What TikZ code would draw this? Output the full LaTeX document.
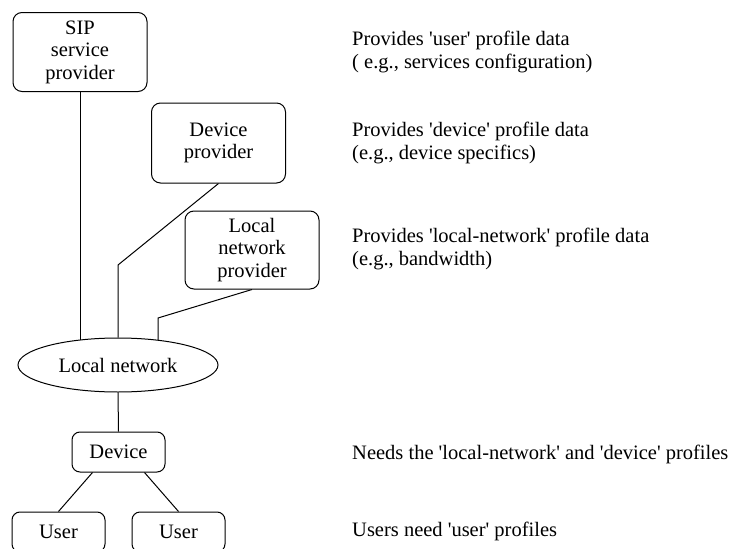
\documentclass[tikz,border=0pt]{standalone}
\usepackage{fontspec}
\setmainfont{Liberation Serif}[Ligatures=TeXOff]
\usetikzlibrary{shapes.geometric}
\pgfdeclarelayer{back}
\pgfsetlayers{back,main}
\tikzset{
  provbox/.style={draw, fill=white, rounded corners=9pt, align=center, inner sep=0pt, minimum width=134pt, minimum height=79pt},
  smallbox/.style={draw, fill=white, rounded corners=8pt, inner sep=0pt, minimum width=93pt, minimum height=40pt},
  netshape/.style={draw, fill=white, ellipse, inner sep=0pt, minimum width=200pt, minimum height=54pt},
  note/.style={anchor=base west, align=left, inner sep=0pt},
  link/.style={line width=1pt}
}

\begin{document}
\begin{tikzpicture}[x=1pt, y=-1pt, line width=1pt, every node/.style={font=\fontsize{20.5}{22.5}\selectfont}]
            \useasboundingbox (0,0) rectangle (737,549);

            % Providers
            \node[provbox] (sip) at (80,52) {SIP\\service\\provider};
            \node[provbox, minimum height=80pt] (devprov) at (218.5,143) {Device\\provider};
            \node[provbox, minimum height=78pt] (lnprov) at (252,250) {Local\\network\\provider};

            % Local network and device
            \node[netshape] (net) at (118,365) {Local network};
            \node[smallbox] (dev) at (118.5,452) {Device};

            % Users
            \node[smallbox] (user1) at (58.5,532) {User};
            \node[smallbox] (user2) at (178.5,532) {User};

            % Bends
            \coordinate (dpbend) at (118,265);
            \coordinate (lnbend) at (158,318);

            % Links
            \begin{pgfonlayer}{back}
            \draw[link] (sip.south) -- (sip.south |- net.center);
            \draw[link] (devprov.south) -- (dpbend) -- (net.north);
            \draw[link] (lnprov.south) -- (lnbend) -- (lnbend |- net.center);
            \end{pgfonlayer}
            \draw[link] (net.south) -- (dev.north);
            \draw[link] ([xshift=-26pt]dev.south) -- (user1.north);
            \draw[link] ([xshift=26pt]dev.south) -- (user2.north);

            % Notes
            \node[note] (usernote) at (352,68) {Provides 'user' profile data\\( e.g., services configuration)};
            \node[note] (devnote) at (352,159) {Provides 'device' profile data\\(e.g., device specifics)};
            \node[note] (netnote) at (352,265) {Provides 'local-network' profile data\\(e.g., bandwidth)};
            \node[note] (needsnote) at (352,459) {Needs the 'local-network' and 'device' profiles};
            \node[note] (usersnote) at (352,536) {Users need 'user' profiles};
        \end{tikzpicture}
\end{document}
